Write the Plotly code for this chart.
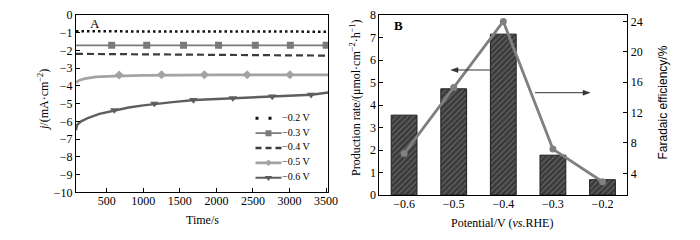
import plotly.graph_objects as go

# ---------------- Panel A data ----------------
t_flat = [80, 3530]
j_02 = [-0.93, -0.95]
j_03 = [-1.72, -1.72]
j_04 = [-2.2, -2.3]

t_05 = [80, 120, 200, 350, 600, 1000, 2000, 3000, 3530]
j_05 = [-3.82, -3.7, -3.6, -3.5, -3.45, -3.41, -3.39, -3.38, -3.39]

t_06 = [80, 95, 150, 250, 400, 600, 800, 1000, 1150, 1400, 1700, 2000, 2250,
        2500, 2800, 3000, 3300, 3530]
j_06 = [-6.5, -6.2, -6.0, -5.8, -5.58, -5.38, -5.22, -5.1, -5.02, -4.92, -4.8,
        -4.74, -4.69, -4.65, -4.6, -4.57, -4.5, -4.38]

t_mk03 = [568, 1047, 1550, 2029, 2532, 3011, 3500]
j_mk03 = [-1.72, -1.72, -1.72, -1.72, -1.72, -1.72, -1.72]
t_mk05 = [670, 1250, 1835, 2420, 3005]
j_mk05 = [-3.39, -3.38, -3.38, -3.38, -3.38]
t_mk06 = [604, 1152, 1686, 2225, 2764, 3294]
j_mk06 = [-5.37, -5.0, -4.8, -4.69, -4.6, -4.5]

series_names = ["−0.2 V", "−0.3 V", "−0.4 V", "−0.5 V", "−0.6 V"]
x_ticks_A = [500, 1000, 1500, 2000, 2500, 3000, 3500]
y_ticks_A = [0, -1, -2, -3, -4, -5, -6, -7, -8, -9, -10]

# ---------------- Panel B data ----------------
potentials = ["−0.6", "−0.5", "−0.4", "−0.3", "−0.2"]
production_rate = [3.55, 4.72, 7.15, 1.77, 0.68]
faradaic_eff = [6.6, 15.3, 24.0, 7.2, 2.9]
y2_ticks = [0, 1, 2, 3, 4, 5, 6, 7, 8]
y3_ticks = [4, 8, 12, 16, 20, 24]

SERIF = "Liberation Serif"
SANS = "Liberation Sans"
W, H = 700, 240
OFF = 8  # page body margin: reference pixel (x, y) -> figure pixel (x - OFF, y - OFF)

def px(x):
    return (x - OFF) / W

def py(y):
    return 1 - (y - OFF) / H

c02, c03, c04, c05, c06 = "#111111", "#7a7a7a", "#3c3c3c", "#a3a3a3", "#5e5e5e"
styles = [
    dict(line=dict(color=c02, width=2.5, dash="2.5px,3px"), marker=None,
         leg_line=dict(color=c02, width=3, dash="3px,10px"), leg_marker=None),
    dict(line=dict(color=c03, width=1.8), marker=dict(color=c03, symbol="square", size=7),
         leg_line=dict(color=c03, width=1.8), leg_marker=dict(color=c03, symbol="square", size=6)),
    dict(line=dict(color=c04, width=2.2, dash="7px,4px"), marker=None,
         leg_line=dict(color=c04, width=2.4, dash="6px,4px"), leg_marker=None),
    dict(line=dict(color=c05, width=2.8), marker=dict(color=c05, symbol="diamond", size=7),
         leg_line=dict(color=c05, width=2.8), leg_marker=dict(color=c05, symbol="diamond", size=5)),
    dict(line=dict(color=c06, width=2.4), marker=dict(color=c06, symbol="triangle-down", size=7.5),
         leg_line=dict(color=c06, width=2.0), leg_marker=dict(color=c06, symbol="triangle-down", size=6.5)),
]

fig = go.Figure()

# Panel A curves
curves = [(t_flat, j_02, None, None), (t_flat, j_03, t_mk03, j_mk03), (t_flat, j_04, None, None),
          (t_05, j_05, t_mk05, j_mk05), (t_06, j_06, t_mk06, j_mk06)]
for name, st, (tx, jy, mx, my) in zip(series_names, styles, curves):
    fig.add_trace(go.Scatter(x=tx, y=jy, mode="lines", name=name, showlegend=False,
                             line=st["line"], xaxis="x", yaxis="y", legendgroup=name))
    if mx is not None:
        fig.add_trace(go.Scatter(x=mx, y=my, mode="markers", name=name, showlegend=False,
                                 marker=st["marker"], xaxis="x", yaxis="y", legendgroup=name))

# Hand-drawn legend on a hidden pixel-scaled axis overlaying panel A
PA_L, PA_R, PA_T, PA_B = 76, 328.3, 14.8, 192.3
leg_x0, leg_x1 = 255.5, 281.5
leg_y0, leg_dy = 118.3, 14.85
for i, (name, st) in enumerate(zip(series_names, styles)):
    yy = leg_y0 + i * leg_dy
    fig.add_trace(go.Scatter(x=[leg_x0, leg_x1], y=[yy, yy], mode="lines", line=st["leg_line"],
                             showlegend=False, hoverinfo="skip", xaxis="x3", yaxis="y4"))
    if st["leg_marker"] is not None:
        fig.add_trace(go.Scatter(x=[(leg_x0 + leg_x1) / 2], y=[yy], mode="markers", marker=st["leg_marker"],
                                 showlegend=False, hoverinfo="skip", xaxis="x3", yaxis="y4"))
    fig.add_trace(go.Scatter(x=[leg_x1 + 0.5], y=[yy], mode="text", text=[name], textposition="middle right",
                             textfont=dict(family=SERIF, size=10, color="black"),
                             showlegend=False, hoverinfo="skip", xaxis="x3", yaxis="y4"))

# Panel B bars + line
fig.add_trace(go.Bar(x=potentials, y=production_rate, xaxis="x2", yaxis="y2", width=0.52,
                     showlegend=False, name="Production rate",
                     marker=dict(color="#3a3a3a", line=dict(color="#1e1e1e", width=1),
                                 pattern=dict(shape="/", fgcolor="#6e6e6e", bgcolor="#3a3a3a",
                                              size=4, solidity=0.25, fillmode="replace"))))
fig.add_trace(go.Scatter(x=potentials, y=faradaic_eff, xaxis="x2", yaxis="y3", mode="lines+markers",
                         showlegend=False, name="Faradaic efficiency",
                         line=dict(color="#808080", width=2.8),
                         marker=dict(color="#808080", size=7, symbol="circle")))

axis_common = dict(showline=True, linecolor="black", linewidth=1, ticks="inside", ticklen=4,
                   tickcolor="black", showgrid=False, zeroline=False, automargin=False,
                   ticklabeloverflow="allow",
                   tickfont=dict(family=SERIF, size=12, color="black"))

dom_xA = [px(PA_L), px(PA_R)]
dom_yA = [py(PA_B), py(PA_T)]
dom_xB = [px(379.3), px(627.3)]
dom_yB = [py(195), py(15)]

def ann_text(text, x, y, angle=0, family=SERIF, size=12):
    return dict(text=text, x=px(x), y=py(y), xref="paper", yref="paper", showarrow=False,
                textangle=angle, xanchor="center", yanchor="middle",
                font=dict(family=family, size=size, color="black"))

def arrow_shapes(x_tail, x_head, y, color="#333333"):
    d = 1 if x_head > x_tail else -1
    hx, hy = px(x_head), py(y)
    back = px(x_head - d * 7)
    return [
        dict(type="line", xref="paper", yref="paper", x0=px(x_tail), x1=px(x_head - d * 5), y0=hy, y1=hy,
             line=dict(color=color, width=1)),
        dict(type="path", xref="paper", yref="paper",
             path=f"M {hx} {hy} L {back} {hy + 2.5 / H} L {back} {hy - 2.5 / H} Z",
             fillcolor=color, line=dict(color=color, width=0.5)),
    ]

fig.update_layout(
    width=W, height=H,
    margin=dict(l=0, r=0, t=0, b=0, pad=0),
    paper_bgcolor="white", plot_bgcolor="white",
    font=dict(family=SERIF, size=12, color="black"),
    showlegend=False,
    xaxis=dict(domain=dom_xA, range=[80, 3530], tickvals=x_ticks_A, mirror=True,
               ticklabelstandoff=-3, **axis_common),
    yaxis=dict(domain=dom_yA, range=[-10, 0], tickvals=y_ticks_A, mirror=True, **axis_common),
    xaxis3=dict(domain=dom_xA, range=[PA_L, PA_R], visible=False, anchor="y4", overlaying="x"),
    yaxis4=dict(domain=dom_yA, range=[PA_B, PA_T], visible=False, anchor="x3", overlaying="y"),
    xaxis2=dict(domain=dom_xB, range=[-0.5, 4.5], type="category", mirror=True, anchor="y2",
                ticklabelstandoff=-2, **{**axis_common, "ticks": ""}),
    yaxis2=dict(domain=dom_yB, range=[0, 8], tickvals=y2_ticks, anchor="x2", **axis_common),
    yaxis3=dict(domain=dom_yB, range=[1.15, 24.85], tickvals=y3_ticks, anchor="x2",
                overlaying="y2", side="right", **axis_common),
    annotations=[
        ann_text("Time/s", 202, 220),
        ann_text("<i>j</i>/(mA·cm<sup>−2</sup>)", 43, 100, -90),
        ann_text("Potential/V (<i>vs.</i>RHE)", 502, 223),
        ann_text("Production rate/(μmol·cm<sup>−2</sup>·h<sup>−1</sup>)", 355, 98, -90),
        ann_text("Faradaic efficiency/%", 662, 102.5, -90, SANS),
        ann_text("A", 95, 24, size=13),
        ann_text("<b>B</b>", 398, 26, size=13),
    ],
    shapes=arrow_shapes(492, 451, 70) + arrow_shapes(535, 590, 92.7),
)

fig.write_html("out.html")
